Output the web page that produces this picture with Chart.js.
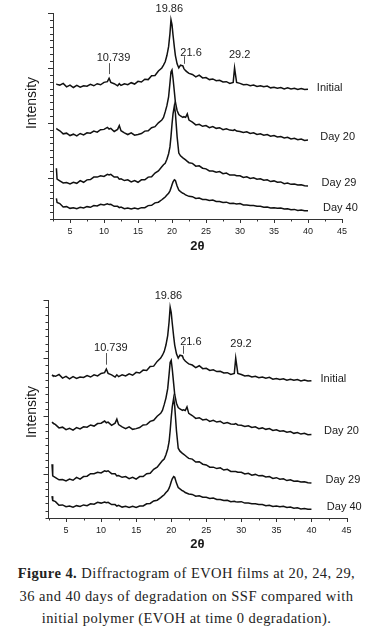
<!DOCTYPE html>
<html>
<head>
<meta charset="utf-8">
<script src="https://cdn.jsdelivr.net/npm/chart.js@4/dist/chart.umd.min.js"></script>
<style>
  html, body { margin: 0; padding: 0; background: #fff; }
  body { width: 373px; height: 636px; position: relative; overflow: hidden; }
  canvas { position: absolute; left: 0; }
  #topChart { top: 0; }
  #bottomChart { top: 280px; }
  .caption {
    position: absolute; left: 0; top: 562px; width: 373px;
    text-align: center; font: 14.5px "Liberation Serif", serif;
    letter-spacing: 0.45px; line-height: 22.5px; color: #222;
  }
</style>
</head>
<body>
<canvas id="topChart" width="373" height="258"></canvas>
<canvas id="bottomChart" width="373" height="276"></canvas>
<div class="caption"><b>Figure 4.</b> Diffractogram of EVOH films at 20, 24, 29,<br>36 and 40 days of degradation on SSF compared with<br>initial polymer (EVOH at time 0 degradation).</div>

<script>
// 2θ positions (degrees)
const twoTheta = [
  3, 3.1,
  3.5, 4, 4.5, 5, 5.5, 6, 6.5, 7, 7.5, 8, 8.5, 9, 9.5, 10, 10.5,
  10.75, 11, 11.5, 12, 12.25, 12.5,
  13, 13.5, 14, 14.5, 15, 15.5, 16, 16.5, 17, 17.5, 18,
  18.5, 18.75, 19, 19.25, 19.5, 19.7, 19.85, 20, 20.15, 20.35, 20.5, 20.75, 21, 21.25, 21.6, 21.75, 22, 22.25, 22.5,
  23, 23.5, 24, 24.5, 25, 25.5, 26, 26.5, 27, 27.5, 28, 28.5,
  29, 29.2, 29.5,
  30, 30.5, 31, 31.5, 32, 32.5, 33, 33.5, 34, 34.5, 35, 35.5, 36, 36.5, 37, 37.5, 38, 38.5, 39, 39.5, 40
];

// intensities as stacked in the figure (arbitrary units)
const initialI = [
  19.7, 19.6,
  19.5, 19.75, 19.25, 19.5, 19.15, 19.45, 19.2, 19.4, 19.35, 19.6, 19.4, 19.7, 19.55, 19.9, 20.0,
  20.5, 19.9, 19.7, 19.4, 19.7, 19.45,
  19.7, 19.55, 19.85, 19.65, 20.05, 19.95, 20.35, 20.3, 20.85, 20.9, 21.55,
  22.0, 22.4, 22.9, 23.8, 25.1, 27.0, 29.0, 28.3, 26.8, 25.0, 23.8, 22.6, 22.0, 22.4, 22.3, 21.9, 21.6, 21.4, 21.2,
  21.05, 20.7, 20.95, 20.55, 20.6, 20.3, 20.4, 20.15, 20.2, 19.95, 20.0, 19.75,
  19.9, 22.0, 19.9,
  19.75, 19.55, 19.6, 19.4, 19.5, 19.3, 19.4, 19.25, 19.35, 19.1, 19.2, 19.05, 19.15, 18.95, 19.1, 18.95, 19.05, 18.85, 19.0, 18.85, 18.9
];
const day20I = [
  13.2, 13.1,
  12.85, 12.4, 12.5, 12.15, 12.35, 12.1, 12.45, 12.25, 12.55, 12.5, 12.8, 12.65, 13.0, 13.05, 13.35,
  13.1, 13.2, 12.75, 13.05, 13.6, 12.85,
  12.55, 12.3, 12.55, 12.2, 12.3, 12.45, 12.8, 12.85, 13.3, 13.45, 14.0,
  14.4, 14.8, 15.6, 16.5, 17.8, 19.8, 21.4, 21.7, 20.5, 18.5, 17.0, 15.8, 15.2, 15.0, 14.8, 14.9, 14.8, 15.3, 14.4,
  14.1, 13.7, 13.8, 13.5, 13.6, 13.3, 13.45, 13.2, 13.3, 13.0, 13.15, 12.95,
  12.9, 13.0, 12.8,
  12.75, 12.6, 12.7, 12.45, 12.55, 12.3, 12.4, 12.2, 12.3, 12.05, 12.15, 11.95, 12.0, 11.8, 11.9, 11.65, 11.75, 11.55, 11.65, 11.45, 11.5
];
const day29I = [
  7.4, 5.8,
  5.55, 5.25, 5.3, 5.1, 5.35, 5.2, 5.6, 5.35, 5.7, 5.75, 6.1, 6.1, 6.3, 6.2, 6.5,
  6.4, 6.5, 6.1, 6.1, 5.8, 5.85,
  5.6, 5.7, 5.4, 5.6, 5.35, 5.7, 5.7, 6.1, 6.15, 6.7, 7.0,
  7.6, 7.9, 8.1, 8.7, 9.5, 10.5, 12.0, 13.8, 15.3, 16.5, 15.4, 12.0, 9.6, 9.2, 8.9, 8.8, 8.6, 8.4, 8.2,
  8.1, 7.7, 7.75, 7.4, 7.3, 7.0, 7.0, 6.8, 6.9, 6.6, 6.7, 6.4,
  6.4, 6.4, 6.3,
  6.3, 6.05, 6.15, 5.9, 6.0, 5.8, 5.85, 5.65, 5.7, 5.45, 5.55, 5.35, 5.4, 5.15, 5.25, 5.05, 5.1, 4.95, 5.0, 4.85, 4.8
];
const day40I = [
  3.0, 2.4,
  2.25, 1.75, 1.8, 1.55, 1.65, 1.5, 1.7, 1.6, 1.8, 1.7, 1.95, 1.9, 2.15, 2.05, 2.2,
  2.1, 2.15, 1.85, 1.85, 1.65, 1.75,
  1.5, 1.6, 1.45, 1.6, 1.45, 1.65, 1.65, 1.95, 2.0, 2.35, 2.45,
  2.8, 3.0, 3.2, 3.5, 3.75, 4.1, 4.5, 5.0, 5.4, 5.7, 5.6, 4.8, 4.2, 4.0, 3.75, 3.7, 3.5, 3.4, 3.3,
  3.25, 3.0, 3.05, 2.85, 2.85, 2.7, 2.75, 2.55, 2.55, 2.4, 2.45, 2.25,
  2.3, 2.25, 2.2,
  2.25, 2.05, 2.05, 1.95, 1.95, 1.85, 1.85, 1.7, 1.75, 1.6, 1.65, 1.55, 1.6, 1.45, 1.5, 1.35, 1.4, 1.25, 1.3, 1.2, 1.2
];

const seriesNames = ['Initial', 'Day 20', 'Day 29', 'Day 40'];
const peakNames = ['10.739', '19.86', '21.6', '29.2'];

const FONT = '"Liberation Sans", Arial, sans-serif';
const INK = '#1a1a1a';

// where the text sits, in axis units
const seriesLabelAt = [[41.3, 19.15], [41.8, 12.0], [42.0, 5.2], [42.2, 1.55]];
const peakLabelAt = [[11.4, 23.4], [19.6, 30.6], [22.8, 24.2], [29.95, 23.9]];
const peakMarks = [[10.75, 22.7, 21.1], [21.7, 23.7, 22.6]];

// tick marks (minor + longer major), labels and markers
const annotate = {
  id: 'annotate',
  afterDraw(chart, args, opts) {
    const { ctx, chartArea, scales: { x, y } } = chart;
    ctx.save();

    ctx.strokeStyle = '#333';
    ctx.lineWidth = 1;
    ctx.beginPath();
    x.ticks.forEach(t => {
      const px = Math.round(x.getPixelForValue(t.value)) + 0.5;
      const len = t.value % 5 === 0 ? 4 : 2.5;
      ctx.moveTo(px, chartArea.bottom);
      ctx.lineTo(px, chartArea.bottom + len);
    });
    y.ticks.forEach(t => {
      const py = Math.round(y.getPixelForValue(t.value)) + 0.5;
      const len = (t.value - 6) % 8 === 0 ? 5 : 3;
      ctx.moveTo(chartArea.left, py);
      ctx.lineTo(chartArea.left - len, py);
    });
    ctx.stroke();

    // peak markers
    ctx.strokeStyle = '#555';
    ctx.beginPath();
    peakMarks.forEach(([t, v0, v1]) => {
      const px = Math.round(x.getPixelForValue(t)) + 0.5;
      ctx.moveTo(px, y.getPixelForValue(v0));
      ctx.lineTo(px, y.getPixelForValue(v1));
    });
    ctx.stroke();

    ctx.fillStyle = INK;
    ctx.font = '11px ' + FONT;
    ctx.textBaseline = 'middle';
    ctx.textAlign = 'center';
    peakNames.forEach((name, i) => {
      const [t, v] = peakLabelAt[i];
      ctx.fillText(name, x.getPixelForValue(t), y.getPixelForValue(v));
    });

    ctx.textAlign = 'left';
    seriesNames.forEach((name, i) => {
      const [t, v] = seriesLabelAt[i];
      ctx.fillText(name, x.getPixelForValue(t), y.getPixelForValue(v));
    });

    // y axis title
    ctx.font = '14px ' + FONT;
    ctx.translate(opts.titleX, opts.titleY);
    ctx.rotate(-Math.PI / 2);
    ctx.textAlign = 'center';
    ctx.fillText('Intensity', 0, 0);
    ctx.restore();
  }
};

function makeChart(id, box) {
  const series = [initialI, day20I, day29I, day40I];
  return new Chart(document.getElementById(id), {
    type: 'line',
    data: {
      datasets: series.map((vals, i) => ({
        label: seriesNames[i],
        data: twoTheta.map((t, k) => ({ x: t, y: vals[k] })),
        borderColor: '#111',
        borderWidth: 1.5,
        pointRadius: 0,
        tension: 0
      }))
    },
    options: {
      responsive: false,
      animation: false,
      devicePixelRatio: 1,
      layout: { padding: box.padding },
      plugins: {
        legend: { display: false },
        tooltip: { enabled: false },
        annotate: { titleX: box.titleX, titleY: box.titleY }
      },
      scales: {
        x: {
          type: 'linear',
          min: 2.5,
          max: 45,
          afterFit: s => { s.height = box.xHeight; },
          grid: { drawOnChartArea: false, drawTicks: false },
          border: { color: '#333' },
          ticks: {
            stepSize: 2.5,
            autoSkip: false,
            maxTicksLimit: 100,
            maxRotation: 0,
            padding: 7,
            color: INK,
            font: { family: FONT, size: 9 },
            callback: v => (v % 5 === 0 ? v : '')
          },
          title: {
            display: true,
            text: '2θ',
            color: INK,
            font: { family: FONT, size: 13, weight: 'bold' },
            padding: { top: 0, bottom: 3.5 }
          }
        },
        y: {
          min: 0,
          max: 30,
          afterFit: s => { s.width = box.yWidth; },
          grid: { drawOnChartArea: false, drawTicks: false },
          border: { color: '#333' },
          ticks: { stepSize: 1, autoSkip: false, maxTicksLimit: 100, display: false }
        }
      }
    },
    plugins: [annotate]
  });
}

makeChart('topChart', {
  padding: { top: 13, right: 31, bottom: 0, left: 0 },
  yWidth: 53, xHeight: 39, titleX: 32, titleY: 103
});
makeChart('bottomChart', {
  padding: { top: 20, right: 26.5, bottom: 0, left: 0 },
  yWidth: 48.5, xHeight: 38, titleX: 32, titleY: 132
});
</script>
</body>
</html>
